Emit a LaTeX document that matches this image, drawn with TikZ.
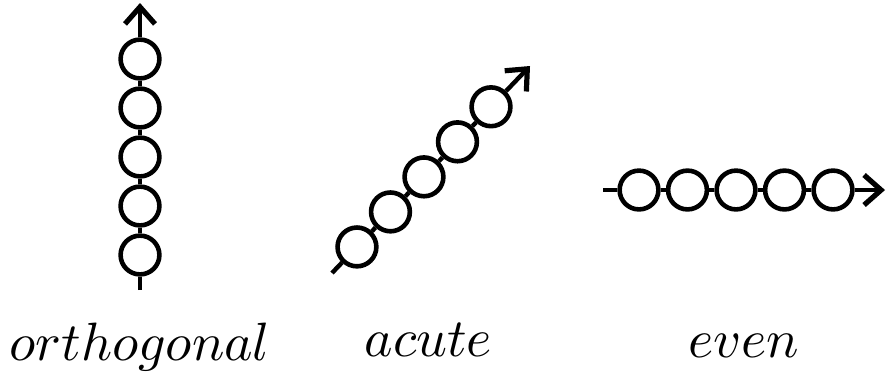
\documentclass[tikz,border=0pt]{standalone}
\usetikzlibrary{arrows.meta,calc}
\tikzset{
  bead/.style={circle, draw=black, fill=white, line width=2.3pt, minimum size=19.4pt, inner sep=0pt},
  rod/.style={line width=2.2pt, draw=black},
  tip/.style={-{Straight Barb[length=8.5pt, width=15pt, line width=2.6pt]}},
  lbl/.style={anchor=base, scale=2.7, inner sep=0pt}
}
\begin{document}
\begin{tikzpicture}[x=0.5pt, y=-0.5pt]
  \useasboundingbox (0,0) rectangle (886,377);

  % vertical chain
  \coordinate (o0) at (140,290);
  \coordinate (oT) at (140,3);
  \foreach \i/\y in {1/255,2/206,3/157,4/108,5/59}
    \node[bead] (o\i) at (140,\y) {};
  \draw[rod] (o0) -- (o1) -- (o2) -- (o3) -- (o4) -- (o5);
  \draw[rod, tip] (o5) -- (oT);

  % diagonal chain
  \coordinate (a0) at (332,273);
  \coordinate (aT) at (530,66);
  \foreach \i in {1,...,5}
    \node[bead] (a\i) at ($(a0)!{0.126+(\i-1)*0.16925}!(aT)$) {};
  \draw[rod] (a0) -- (a1) -- (a2) -- (a3) -- (a4) -- (a5);
  \draw[rod, tip] (a5) -- (aT);

  % horizontal chain
  \coordinate (e0) at (603,190);
  \coordinate (eT) at (885,190);
  \foreach \i/\x in {1/639,2/687.5,3/736,4/784.5,5/833}
    \node[bead] (e\i) at (\x,190) {};
  \draw[rod] (e0) -- (e1) -- (e2) -- (e3) -- (e4) -- (e5);
  \draw[rod, tip] (e5) -- (eT);

  % captions
  \node[lbl] (lo) at (140,360) {$orthogonal$};
  \node[lbl] (la) at (428.5,356) {$acute$};
  \node[lbl] (le) at (743.5,357) {$even$};
\end{tikzpicture}
\end{document}
